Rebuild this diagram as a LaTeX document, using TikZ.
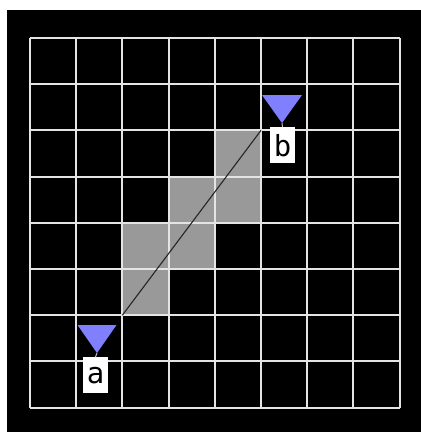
\documentclass[tikz,border=0pt]{standalone}
\usepackage{fontspec}
\usepackage{tikz}
\usetikzlibrary{positioning,calc}
\newfontfamily\PathLabelFont{DejaVu Sans Mono}
\definecolor{pincolor}{RGB}{128,128,255}
\definecolor{visitcolor}{RGB}{153,153,153}
\definecolor{gridcolor}{RGB}{228,228,228}
\def\PathCell{46.2}

\begin{document}
\begin{tikzpicture}[x=1pt,y=-1pt]
            \tikzset{
                grid line/.style={draw=gridcolor, line width=2pt},
                visited cell/.style={fill=visitcolor},
                path segment/.style={draw=black!85, line width=1.1pt},
                pin/.style={fill=pincolor},
                pin stem/.style={draw=white!75!black, line width=1pt},
                pin label/.style={fill=white, inner sep=0pt, minimum width=25pt,
                    minimum height=36pt, anchor=north,
                    font=\PathLabelFont\fontsize{29pt}{31pt}\selectfont}
            }
            \useasboundingbox (0,0) rectangle (421,432);
            \fill[white] (0,0) rectangle (421,432);
            \fill[black] (7,10) rectangle (421,432);

            % cells crossed by the segment
            \foreach \col/\row in {4/2,3/3,4/3,2/4,3/4,2/5} {
                \fill[visited cell] ({30+\col*\PathCell},{38+\row*\PathCell})
                    rectangle ++(\PathCell,\PathCell);
            }
            \foreach \i in {0,...,8} {
                \pgfmathsetmacro{\p}{\i*\PathCell}
                \draw[grid line] ({30+\p},38) -- ({30+\p},{38+8*\PathCell});
                \draw[grid line] (30,{38+\p}) -- ({30+8*\PathCell},{38+\p});
            }

            \coordinate (end-a) at ({30+2*\PathCell},{38+6*\PathCell});
            \coordinate (end-b) at ({30+5*\PathCell},{38+2*\PathCell});
            \draw[path segment] (end-a) -- (end-b);

            \coordinate (tip-a) at (97,353);
            \coordinate (tip-b) at (282,123);
            \fill[pin] (tip-a) -- ++(-19.5,-28) -- ++(39,0) -- cycle;
            \fill[pin] (tip-b) -- ++(-20,-28) -- ++(40,0) -- cycle;
            \node[pin label] (label-a) at (95.5,357) {a};
            \node[pin label] (label-b) at (282.5,127) {b};
            \draw[pin stem] (tip-a) -- (label-a.north);
            \draw[pin stem] (tip-b) -- (label-b.north);
\end{tikzpicture}
\end{document}
